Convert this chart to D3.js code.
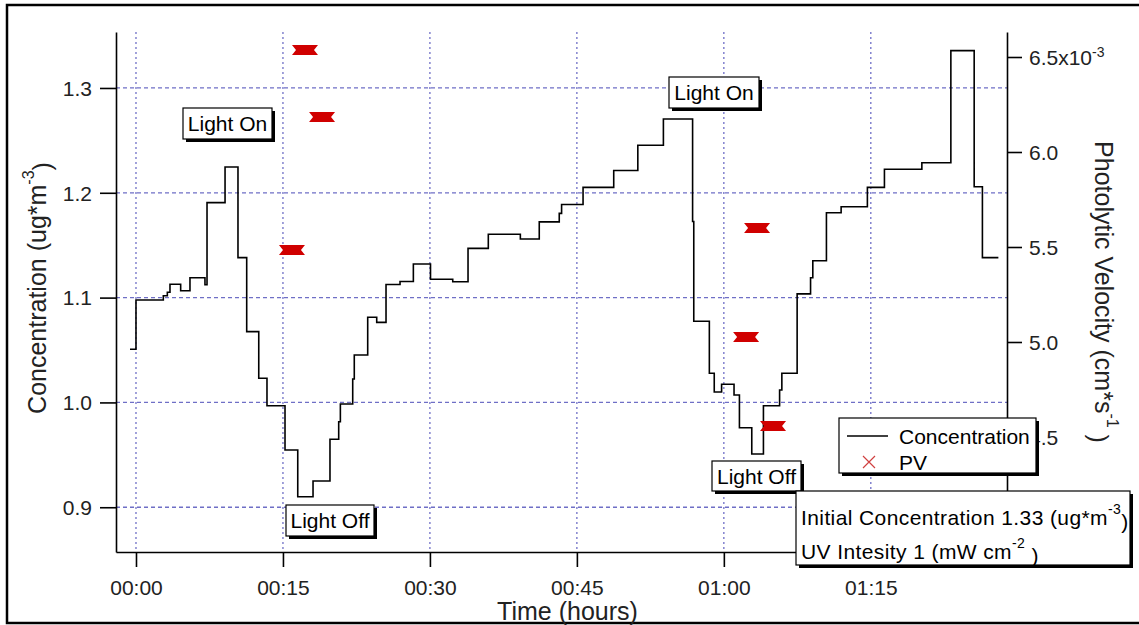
<!DOCTYPE html>
<html>
<head>
<meta charset="utf-8">
<script src="https://cdn.jsdelivr.net/npm/d3@7"></script>
<style>
  html, body { margin: 0; padding: 0; background: #fff; }
  svg { display: block; font-family: "Liberation Sans", Arial, sans-serif; }
</style>
</head>
<body>
<svg id="chart" width="1139" height="625"></svg>
<script>
// ---------- data ----------
// step series: time in minutes, concentration in ug*m^-3 (value held until next time)
const stepTimes = [-0.61, 0.0, 2.79, 3.20, 3.47, 4.56, 5.51, 7.04, 7.25, 9.09, 10.41, 11.30, 12.53, 13.37,
  15.21, 16.51, 18.07, 19.80, 20.69, 20.86, 22.12, 22.28, 23.65, 24.57, 25.52, 26.95, 28.31, 30.06,
  32.33, 33.89, 35.96, 39.23, 41.16, 43.20, 43.44, 45.63, 48.76, 51.22, 53.83, 56.81, 56.93, 58.52,
  59.02, 59.77, 61.04, 61.59, 62.85, 64.04, 65.69, 65.92, 67.48, 68.85, 69.08, 70.47, 71.97, 74.65,
  76.39, 80.21, 83.17, 85.55, 86.39, 88.02];
const concentration = [1.0507, 1.0977, 1.1018, 1.1051, 1.1127, 1.1066, 1.1190, 1.1123, 1.1906, 1.2246,
  1.1381, 1.0675, 1.0230, 0.9969, 0.9546, 0.9100, 0.9250, 0.9648, 0.9816, 0.9985, 1.0223, 1.0452,
  1.0812, 1.0764, 1.1125, 1.1154, 1.1321, 1.1175, 1.1152, 1.1470, 1.1604, 1.1559, 1.1723, 1.1804,
  1.1888, 1.2052, 1.2213, 1.2454, 1.2704, 1.1726, 1.0774, 1.0278, 1.0099, 1.0173, 1.0071, 0.9758,
  0.9508, 0.9968, 1.0118, 1.0278, 1.1036, 1.1189, 1.1352, 1.1810, 1.1867, 1.2052, 1.2224, 1.2287,
  1.3356, 1.2058, 1.1381, 1.1381];
// photolytic velocity points: time in minutes, value in 10^-3 cm*s^-1
const pvTimes = [15.92, 17.25, 18.99, 62.27, 63.39, 65.02];
const pvValues = [5.484, 6.537, 6.184, 5.026, 5.600, 4.558];

const xTickMinutes = [0, 15, 30, 45, 60, 75];
const xTickLabels = ["00:00", "00:15", "00:30", "00:45", "01:00", "01:15"];
const leftTicks = [0.9, 1.0, 1.1, 1.2, 1.3];
const leftTickLabels = ["0.9", "1.0", "1.1", "1.2", "1.3"];
const rightTicks = [4.5, 5.0, 5.5, 6.0, 6.5];
const rightTickLabels = ["4.5", "5.0", "5.5", "6.0", "6.5x10"];

const legendLabels = ["Concentration", "PV"];
const infoLine1 = ["Initial Concentration 1.33 (ug*m", "-3", ")"];
const infoLine2 = ["UV Intesity 1 (mW cm", "-2", " )"];

// ---------- layout ----------
const svg = d3.select("#chart");
const L = 116, R = 1007, T = 32, B = 552;
const x = d3.scaleLinear().domain([-2.04, 88.9]).range([L, R]);
const yL = d3.scaleLinear().domain([0.8573, 1.3534]).range([B, T]);
const yR = d3.scaleLinear().domain([3.8947, 6.6316]).range([B, T]);

const gridColor = "#6f6fc6";
const textColor = "#222";
const tickFont = 21;

// outer frame
svg.append("rect").attr("x", 7).attr("y", 5).attr("width", 1150).attr("height", 618)
  .attr("fill", "none").attr("stroke", "#000").attr("stroke-width", 2.5);

// grid
const grid = svg.append("g");
grid.selectAll("line.h").data(leftTicks).join("line")
  .attr("x1", L).attr("x2", R).attr("y1", d => yL(d)).attr("y2", d => yL(d))
  .attr("stroke", gridColor).attr("stroke-width", 1.3).attr("stroke-dasharray", "4,3");
grid.selectAll("line.v").data(xTickMinutes).join("line")
  .attr("x1", d => x(d)).attr("x2", d => x(d)).attr("y1", T).attr("y2", B)
  .attr("stroke", gridColor).attr("stroke-width", 1.3).attr("stroke-dasharray", "2,3");

// axes
function styleAxis(g) {
  g.select(".domain").attr("stroke", "#000").attr("stroke-width", 1.6);
  g.selectAll(".tick line").attr("stroke", "#000").attr("stroke-width", 1.6);
  g.selectAll(".tick text").attr("fill", textColor).attr("font-size", tickFont)
    .attr("font-family", "'Liberation Sans', Arial, sans-serif");
}
const axL = svg.append("g").attr("transform", `translate(${L},0)`)
  .call(d3.axisLeft(yL).tickValues(leftTicks).tickSize(16).tickSizeOuter(0).tickPadding(8)
    .tickFormat((d, i) => leftTickLabels[i]));
styleAxis(axL);
axL.selectAll(".tick text").attr("dy", "0.35em");

const axB = svg.append("g").attr("transform", `translate(0,${B})`)
  .call(d3.axisBottom(x).tickValues(xTickMinutes).tickSize(15).tickSizeOuter(0).tickPadding(13)
    .tickFormat((d, i) => xTickLabels[i]));
styleAxis(axB);

const axR = svg.append("g").attr("transform", `translate(${R},0)`)
  .call(d3.axisRight(yR).tickValues(rightTicks).tickSize(15).tickSizeOuter(0).tickPadding(7)
    .tickFormat((d, i) => rightTickLabels[i]));
styleAxis(axR);
axR.selectAll(".tick text").attr("dy", "0.35em");
// superscript exponent on the top right tick
axR.selectAll(".tick text").filter(d => d === 6.5)
  .append("tspan").attr("dy", "-0.55em").attr("font-size", 14).text("-3");

// axis titles
svg.append("text")
  .attr("transform", `translate(37,${(T + B) / 2 - 4}) rotate(-90)`)
  .attr("text-anchor", "middle").attr("dominant-baseline", "central")
  .attr("font-size", 25).attr("fill", textColor)
  .call(t => {
    t.append("tspan").text("Concentration (ug*m");
    t.append("tspan").attr("dy", "-0.55em").attr("font-size", 16).text("-3");
    t.append("tspan").attr("dy", "0.55em").text(")");
  });
svg.append("text")
  .attr("transform", `translate(1104,${(T + B) / 2}) rotate(90)`)
  .attr("text-anchor", "middle").attr("dominant-baseline", "central")
  .attr("font-size", 25).attr("fill", textColor)
  .call(t => {
    t.append("tspan").text("Photolytic Velocity (cm*s");
    t.append("tspan").attr("dy", "-0.55em").attr("font-size", 16).text("-1");
    t.append("tspan").attr("dy", "0.55em").text(" )");
  });
svg.append("text").attr("x", (L + R) / 2 + 6).attr("y", 620)
  .attr("text-anchor", "middle").attr("font-size", 25).attr("fill", textColor).text("Time (hours)");

// step line
const stepData = stepTimes.map((t, i) => [t, concentration[i]]);
svg.append("path").datum(stepData)
  .attr("d", d3.line().x(d => x(d[0])).y(d => yL(d[1])).curve(d3.curveStepAfter))
  .attr("fill", "none").attr("stroke", "#000").attr("stroke-width", 1.6);

// PV markers (horizontal bow-tie)
const pvData = pvTimes.map((t, i) => [t, pvValues[i]]);
svg.append("g").selectAll("path").data(pvData).join("path")
  .attr("transform", d => `translate(${x(d[0])},${yR(d[1])})`)
  .attr("d", "M-13,-5 L13,-5 L9,0 L13,5 L-13,5 L-9,0 Z")
  .attr("fill", "#d00000");

// boxed labels with drop shadow
function box(xp, yp, w, h) {
  const g = svg.append("g");
  g.append("rect").attr("x", xp + 3).attr("y", yp + 3).attr("width", w).attr("height", h).attr("fill", "#000");
  g.append("rect").attr("x", xp).attr("y", yp).attr("width", w).attr("height", h)
    .attr("fill", "#fff").attr("stroke", "#000").attr("stroke-width", 1.2);
  return g;
}
function labelBox(xp, yp, w, h, txt) {
  const g = box(xp, yp, w, h);
  g.append("text").attr("x", xp + w / 2).attr("y", yp + h / 2).attr("text-anchor", "middle")
    .attr("dominant-baseline", "central").attr("font-size", tickFont).attr("fill", "#000").text(txt);
}
labelBox(183, 108, 89, 31, "Light On");
labelBox(669, 77, 90, 31, "Light On");
labelBox(286, 505, 88, 31, "Light Off");
labelBox(712, 461, 89, 30, "Light Off");

// legend
const lg = box(839, 418, 197, 55);
lg.append("line").attr("x1", 847).attr("x2", 888).attr("y1", 436).attr("y2", 436)
  .attr("stroke", "#000").attr("stroke-width", 1.4);
lg.append("text").attr("x", 899).attr("y", 436).attr("dominant-baseline", "central")
  .attr("font-size", tickFont).attr("fill", "#000").text(legendLabels[0]);
lg.append("path").attr("d", "M863,456 L875,468 M875,456 L863,468")
  .attr("stroke", "#d04040").attr("stroke-width", 1.2).attr("fill", "none");
lg.append("text").attr("x", 899).attr("y", 462).attr("dominant-baseline", "central")
  .attr("font-size", tickFont).attr("fill", "#000").text(legendLabels[1]);

// info box
const ib = box(796, 491, 334, 74);
function infoText(yp, parts) {
  const t = ib.append("text").attr("x", 801).attr("y", yp).attr("dominant-baseline", "central")
    .attr("font-size", tickFont).attr("letter-spacing", 0.4).attr("fill", "#000");
  t.append("tspan").text(parts[0]);
  t.append("tspan").attr("dy", "-0.55em").attr("font-size", 14).text(parts[1]);
  t.append("tspan").attr("dy", "0.55em").text(parts[2]);
}
infoText(517, infoLine1);
infoText(551, infoLine2);
</script>
</body>
</html>
